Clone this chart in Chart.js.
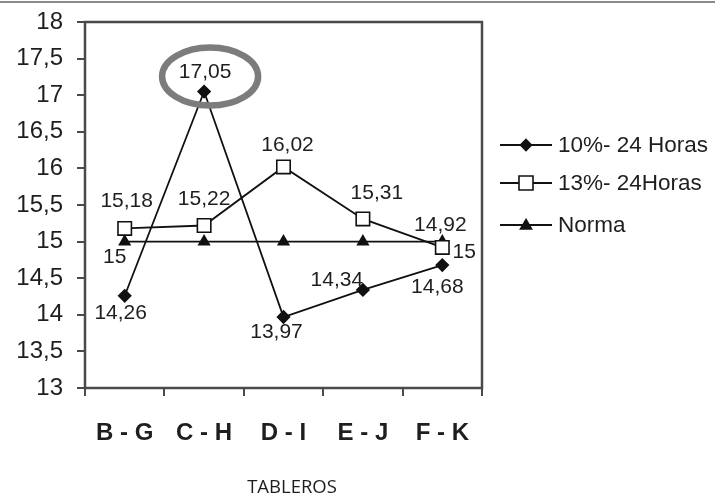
<!DOCTYPE html>
<html>
<head>
<meta charset="utf-8">
<script src="https://cdn.jsdelivr.net/npm/chart.js@4/dist/chart.umd.min.js"></script>
<style>
  html, body { margin: 0; padding: 0; background: #fff; }
  #wrap { width: 723px; height: 500px; position: relative; }
</style>
</head>
<body>
<div id="wrap"><canvas id="c" width="723" height="500"></canvas></div>
<script>
// Categories (board pairs) and series values
const categories = ['B - G', 'C - H', 'D - I', 'E - J', 'F - K'];
const serie10 = [14.26, 17.05, 13.97, 14.34, 14.68];
const serie13 = [15.18, 15.22, 16.02, 15.31, 14.92];
const norma = [15, 15, 15, 15, 15];
const seriesNames = ['10%- 24 Horas', '13%- 24Horas', 'Norma'];
const yTicks = [13, 13.5, 14, 14.5, 15, 15.5, 16, 16.5, 17, 17.5, 18];
const xTitle = 'TABLEROS';

// Value-label placement (pixel offsets from each point); null = no label
const labelOffsets = [
  [[-4, 17], [1, -19], [-7, 15], [-26, -10], [-5, 22]],
  [[2, -27], [0, -26], [4, -22], [14, -26], [-2, -22]],
  [[-10, 16], null, null, null, [22, 11]]
];

const fmt = v => String(v).replace('.', ',');
const AXIS = '#4a4a4a';
const TXT = '#1e1e1e';
const FONT = '"Liberation Sans", Arial, sans-serif';

const decor = {
  id: 'decor',
  afterDraw(chart) {
    const { ctx, chartArea: a } = chart;
    ctx.save();
    // page frame line
    ctx.strokeStyle = '#8a8a8a';
    ctx.lineWidth = 2;
    ctx.beginPath(); ctx.moveTo(0, 2); ctx.lineTo(715, 2); ctx.stroke();
    // plot frame
    ctx.strokeStyle = AXIS;
    ctx.lineWidth = 2.5;
    ctx.strokeRect(a.left, a.top, a.right - a.left, a.bottom - a.top);

    // value labels
    ctx.fillStyle = TXT;
    ctx.font = '21px ' + FONT;
    ctx.textAlign = 'center';
    ctx.textBaseline = 'middle';
    chart.data.datasets.forEach((ds, di) => {
      const meta = chart.getDatasetMeta(di);
      meta.data.forEach((pt, i) => {
        const off = labelOffsets[di][i];
        if (!off) return;
        ctx.fillText(fmt(ds.data[i]), pt.x + off[0], pt.y + off[1]);
      });
    });

    // highlight ring round the peak value
    const peakIdx = serie10.indexOf(Math.max(...serie10));
    const pk = chart.getDatasetMeta(0).data[peakIdx];
    ctx.strokeStyle = '#7c7c7c';
    ctx.lineWidth = 6.5;
    ctx.beginPath();
    ctx.ellipse(pk.x + 6, pk.y - 15, 48, 29, 0, 0, Math.PI * 2);
    ctx.stroke();

    // legend
    ctx.save();
    ctx.beginPath(); ctx.rect(490, 120, 223, 130); ctx.clip();
    const ly = [145, 183, 225];
    chart.data.datasets.forEach((ds, di) => {
      const y = ly[di];
      ctx.strokeStyle = '#111';
      ctx.lineWidth = 1.8;
      ctx.beginPath(); ctx.moveTo(500, y); ctx.lineTo(552, y); ctx.stroke();
      drawMarker(ctx, ds.pointStyle, 526, y, ds.pointStyle === 'rect' ? 7 : 5.5, ds.pointBackgroundColor);
      ctx.fillStyle = TXT;
      ctx.font = '22.5px ' + FONT;
      ctx.textAlign = 'left';
      ctx.fillText(ds.label, 558, y + 1);
    });
    ctx.restore();

    // axis title
    ctx.fillStyle = TXT;
    ctx.font = '18.5px "Open Sans", sans-serif';
    ctx.textAlign = 'center';
    ctx.fillText(xTitle, 292, 488);
    ctx.restore();
  }
};

function drawMarker(ctx, style, x, y, r, fill) {
  ctx.save();
  ctx.fillStyle = fill;
  ctx.strokeStyle = '#111';
  ctx.lineWidth = 1.6;
  ctx.beginPath();
  if (style === 'rectRot') {
    ctx.moveTo(x, y - r); ctx.lineTo(x + r, y); ctx.lineTo(x, y + r); ctx.lineTo(x - r, y); ctx.closePath();
  } else if (style === 'rect') {
    ctx.rect(x - r, y - r, 2 * r, 2 * r);
  } else {
    ctx.moveTo(x, y - r); ctx.lineTo(x + r, y + r * 0.7); ctx.lineTo(x - r, y + r * 0.7); ctx.closePath();
  }
  ctx.fill(); ctx.stroke();
  ctx.restore();
}

const common = { borderColor: '#111', borderWidth: 1.8, tension: 0, pointBorderColor: '#111', pointBorderWidth: 1.6 };

new Chart(document.getElementById('c'), {
  type: 'line',
  data: {
    labels: categories,
    datasets: [
      { ...common, label: seriesNames[0], data: serie10, pointStyle: 'rectRot', pointRadius: 6, pointBackgroundColor: '#111' },
      { ...common, label: seriesNames[1], data: serie13, pointStyle: 'rect', pointRadius: 9.5, pointBackgroundColor: '#fff' },
      { ...common, label: seriesNames[2], data: norma, pointStyle: 'triangle', pointRadius: 6, pointBackgroundColor: '#111' }
    ]
  },
  options: {
    responsive: false,
    animation: false,
    layout: { padding: { left: 0, top: 22, right: 241, bottom: 52 } },
    plugins: { legend: { display: false }, tooltip: { enabled: false } },
    scales: {
      x: {
        offset: true,
        grid: { offset: true, drawOnChartArea: false, drawTicks: true, tickLength: 8, color: AXIS, lineWidth: 2 },
        border: { display: false },
        ticks: { color: TXT, padding: 23, font: { family: FONT, size: 24, weight: 'bold' } },
        afterFit(s) { s.height = 60; s.paddingLeft = 0; s.paddingRight = 0; }
      },
      y: {
        min: 13, max: 18,
        afterBuildTicks(s) { s.ticks = yTicks.map(v => ({ value: v })); },
        grid: { drawOnChartArea: false, drawTicks: true, tickLength: 8, color: AXIS, lineWidth: 2 },
        border: { display: false },
        ticks: { color: TXT, padding: 14, callback: v => fmt(v), font: { family: FONT, size: 24 } },
        afterFit(s) { s.width = 85; s.paddingTop = 0; s.paddingBottom = 0; }
      }
    }
  },
  plugins: [decor]
});
</script>
</body>
</html>
